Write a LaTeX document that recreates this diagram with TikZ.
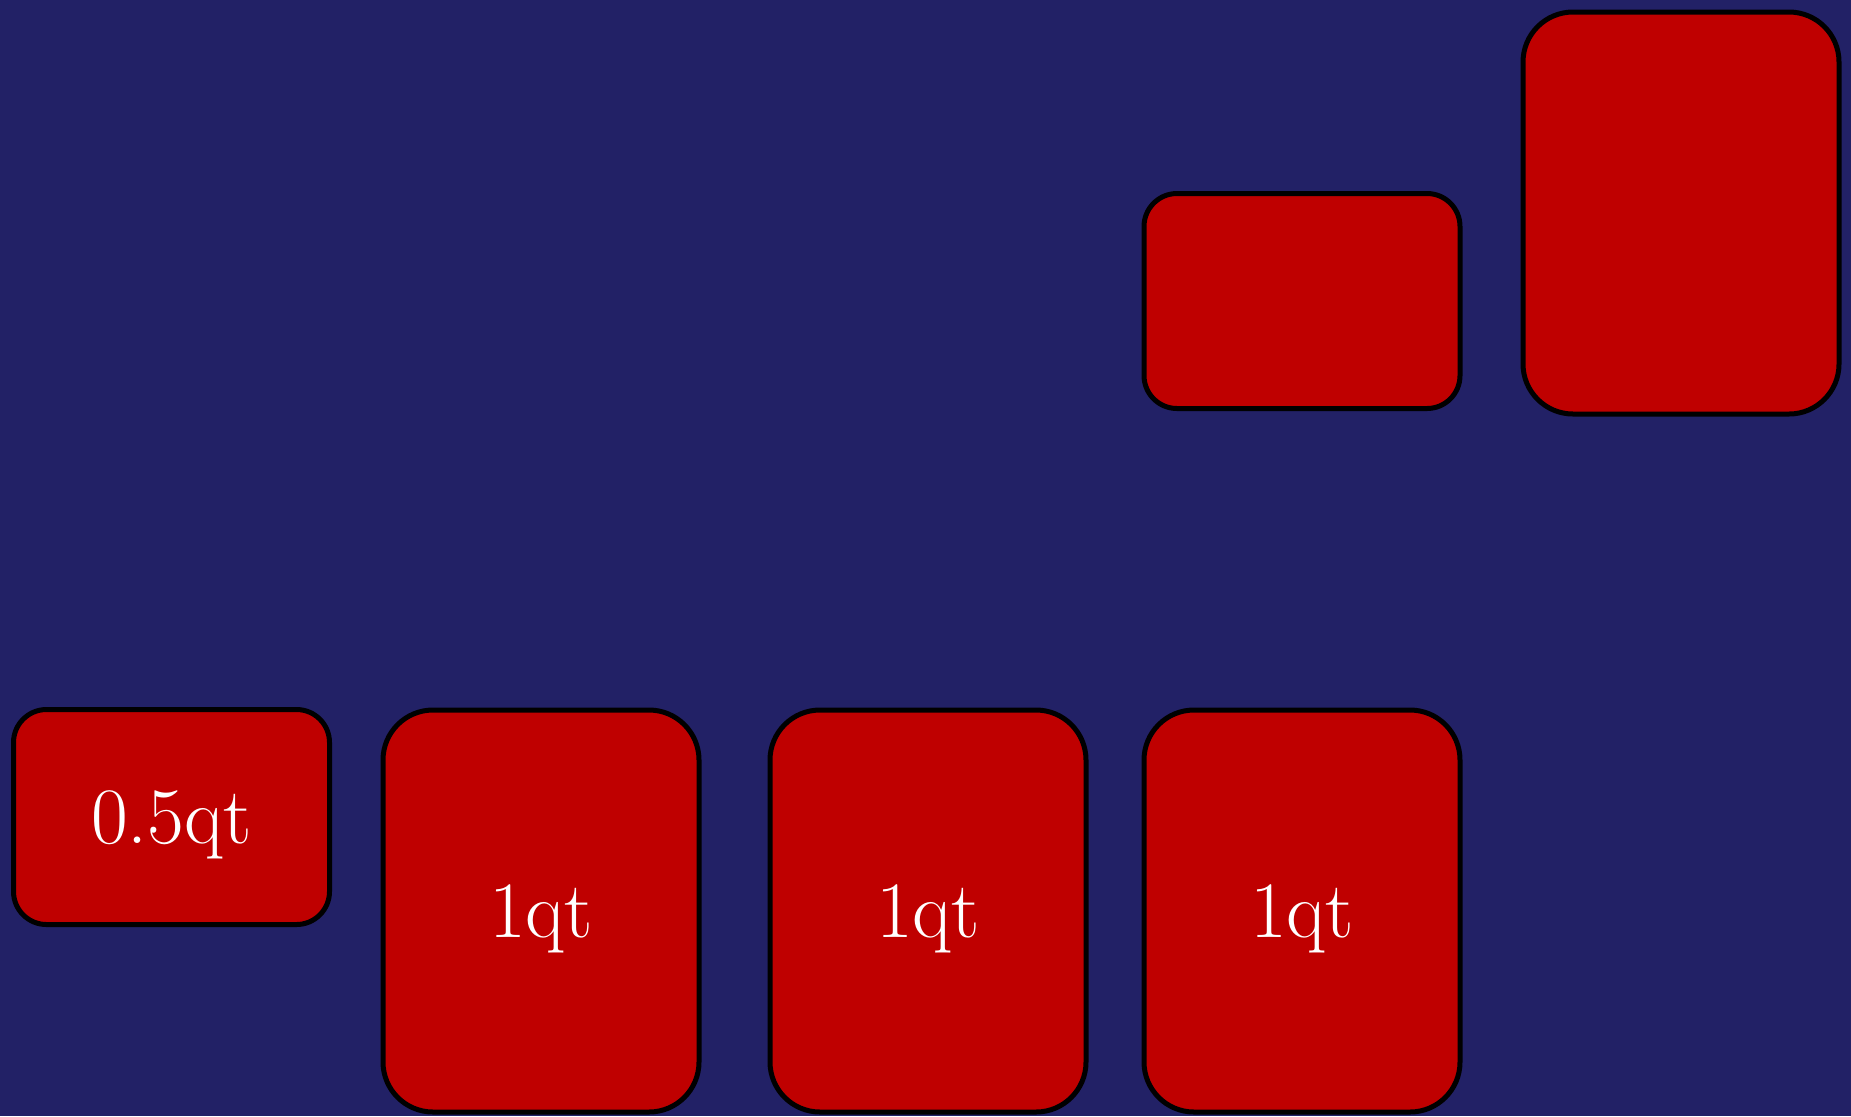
\documentclass[tikz,border=0pt]{standalone}
\definecolor{bgnavy}{RGB}{34,33,102}
\definecolor{boxred}{RGB}{191,0,0}
\tikzset{
  qbox/.style={draw=black, line width=2.5pt, fill=boxred, text=white,
    minimum width=158pt, inner sep=0pt, outer sep=0pt, text depth=0pt,
    font=\fontsize{40}{48}\selectfont},
  smallq/.style={qbox, minimum height=107.5pt, rounded corners=16.5pt},
  bigq/.style={qbox, minimum height=201pt, rounded corners=25pt}
}
\begin{document}
\begin{tikzpicture}[x=0.5pt,y=-0.5pt]
\fill[bgnavy] (0,0) rectangle (1851,1116);
\useasboundingbox (0,0) rectangle (1851,1116);
\node[smallq] (half) at (171.5,817) {0.5qt};
\node[bigq] (q1) at (541,911) {1qt};
\node[bigq] (q2) at (928,911) {1qt};
\node[bigq] (q3) at (1302,911) {1qt};
\node[smallq] (topsmall) at (1302,301) {};
\node[bigq] (topbig) at (1681,213) {};
\end{tikzpicture}
\end{document}
